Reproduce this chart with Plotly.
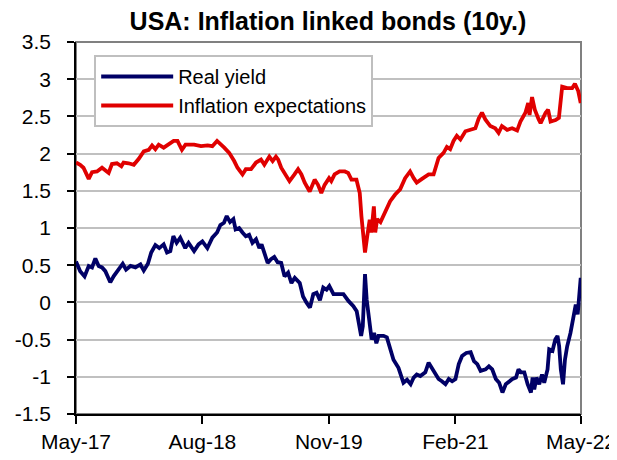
import plotly.graph_objects as go

# ---- data ----
tick_dates = ["2017-05-01", "2018-08-01", "2019-11-01", "2021-02-01", "2022-05-01"]
tick_labels = ["May-17", "Aug-18", "Nov-19", "Feb-21", "May-22"]

y_tickvals = [-1.5, -1, -0.5, 0, 0.5, 1, 1.5, 2, 2.5, 3, 3.5]
y_ticklabels = ["-1.5", "-1", "-0.5", "0", "0.5", "1", "1.5", "2", "2.5", "3", "3.5"]

infl_dates = [
    "2017-05-01", "2017-05-16", "2017-05-28", "2017-06-16", "2017-06-28", "2017-07-16", "2017-08-03", "2017-08-15", "2017-08-27", "2017-09-08",
    "2017-09-26", "2017-10-12", "2017-10-20", "2017-11-07", "2017-11-26", "2017-12-14", "2018-01-01", "2018-01-19", "2018-01-31", "2018-02-12",
    "2018-02-24", "2018-03-14", "2018-04-01", "2018-04-19", "2018-05-03", "2018-05-19", "2018-06-01", "2018-07-02", "2018-07-27", "2018-08-20",
    "2018-09-06", "2018-09-23", "2018-10-19", "2018-11-06", "2018-11-24", "2018-12-06", "2018-12-24", "2019-01-05", "2019-01-24", "2019-02-11",
    "2019-03-01", "2019-03-13", "2019-03-31", "2019-04-12", "2019-04-24", "2019-05-02", "2019-05-13", "2019-05-31", "2019-06-12", "2019-06-30",
    "2019-07-13", "2019-07-25", "2019-08-06", "2019-08-24", "2019-09-11", "2019-09-23", "2019-10-05", "2019-10-17", "2019-11-02", "2019-11-10",
    "2019-11-22", "2019-12-10", "2019-12-29", "2020-01-10", "2020-01-22", "2020-02-09", "2020-02-21", "2020-02-27", "2020-03-07", "2020-03-11",
    "2020-03-19", "2020-03-28", "2020-04-03", "2020-04-12", "2020-04-17", "2020-04-24", "2020-05-06", "2020-05-23", "2020-06-10", "2020-06-28",
    "2020-07-16", "2020-08-03", "2020-08-21", "2020-09-03", "2020-09-14", "2020-10-03", "2020-10-27", "2020-11-14", "2020-12-02", "2020-12-20",
    "2021-01-01", "2021-01-13", "2021-01-25", "2021-02-06", "2021-02-19", "2021-03-09", "2021-03-27", "2021-04-14", "2021-04-26", "2021-05-08",
    "2021-05-20", "2021-06-07", "2021-06-25", "2021-07-07", "2021-07-19", "2021-08-07", "2021-08-25", "2021-09-12", "2021-09-24", "2021-10-12",
    "2021-10-22", "2021-10-27", "2021-11-05", "2021-11-15", "2021-11-29", "2021-12-06", "2021-12-24", "2022-01-02", "2022-01-11", "2022-01-29",
    "2022-02-10", "2022-02-22", "2022-03-12", "2022-03-30", "2022-04-09", "2022-04-21", "2022-04-30",
]
infl_exp = [
    1.88, 1.85, 1.81, 1.66, 1.75, 1.76, 1.81, 1.78, 1.74, 1.86,
    1.87, 1.83, 1.88, 1.87, 1.85, 1.93, 2.03, 2.05, 2.11, 2.06,
    2.12, 2.08, 2.13, 2.17, 2.17, 2.05, 2.12, 2.12, 2.10, 2.11,
    2.10, 2.17, 2.08, 2.01, 1.90, 1.81, 1.72, 1.79, 1.79, 1.88,
    1.92, 1.85, 1.96, 1.90, 1.96, 1.92, 1.81, 1.70, 1.63, 1.72,
    1.79, 1.72, 1.61, 1.49, 1.65, 1.58, 1.47, 1.58, 1.67, 1.63,
    1.72, 1.76, 1.76, 1.74, 1.65, 1.65, 1.47, 1.16, 0.80, 0.67,
    0.89, 1.11, 0.94, 1.29, 0.94, 1.12, 1.08, 1.23, 1.36, 1.45,
    1.52, 1.67, 1.76, 1.67, 1.61, 1.66, 1.72, 1.72, 1.94, 2.01,
    2.09, 2.06, 2.17, 2.24, 2.19, 2.30, 2.32, 2.34, 2.47, 2.55,
    2.46, 2.37, 2.34, 2.28, 2.37, 2.32, 2.34, 2.31, 2.43, 2.55,
    2.68, 2.52, 2.76, 2.59, 2.46, 2.41, 2.55, 2.59, 2.43, 2.45,
    2.48, 2.90, 2.88, 2.88, 2.94, 2.84, 2.68,
]

real_dates = [
    "2017-05-01", "2017-05-16", "2017-06-01", "2017-06-16", "2017-06-28", "2017-07-10", "2017-07-22", "2017-08-03", "2017-08-15", "2017-09-02",
    "2017-09-14", "2017-10-02", "2017-10-17", "2017-10-29", "2017-11-14", "2017-12-02", "2017-12-20", "2018-01-01", "2018-01-16", "2018-01-28",
    "2018-02-12", "2018-02-26", "2018-03-14", "2018-03-26", "2018-04-07", "2018-04-18", "2018-04-30", "2018-05-13", "2018-05-31", "2018-06-12",
    "2018-07-02", "2018-07-18", "2018-08-01", "2018-08-19", "2018-09-06", "2018-09-23", "2018-10-05", "2018-10-18", "2018-10-28", "2018-11-09",
    "2018-11-21", "2018-11-29", "2018-12-12", "2018-12-24", "2019-01-05", "2019-01-17", "2019-01-29", "2019-02-11", "2019-02-23", "2019-03-03",
    "2019-03-13", "2019-03-25", "2019-04-06", "2019-04-18", "2019-04-30", "2019-05-13", "2019-05-25", "2019-06-07", "2019-06-19", "2019-07-01",
    "2019-07-19", "2019-07-31", "2019-08-12", "2019-08-25", "2019-09-06", "2019-09-18", "2019-09-30", "2019-10-12", "2019-10-24", "2019-11-03",
    "2019-11-18", "2019-12-06", "2019-12-24", "2020-01-11", "2020-01-29", "2020-02-10", "2020-02-20", "2020-02-26", "2020-03-03", "2020-03-11",
    "2020-03-17", "2020-03-26", "2020-04-04", "2020-04-13", "2020-04-21", "2020-04-29", "2020-05-17", "2020-05-29", "2020-06-10", "2020-06-22",
    "2020-07-10", "2020-07-22", "2020-07-28", "2020-08-10", "2020-08-23", "2020-09-03", "2020-09-14", "2020-09-27", "2020-10-15", "2020-10-27",
    "2020-11-08", "2020-11-20", "2020-12-02", "2020-12-14", "2020-12-27", "2021-01-08", "2021-01-20", "2021-02-01", "2021-02-13", "2021-02-25",
    "2021-03-12", "2021-03-28", "2021-04-09", "2021-04-21", "2021-05-03", "2021-05-21", "2021-06-02", "2021-06-14", "2021-06-27", "2021-07-09",
    "2021-07-21", "2021-08-02", "2021-08-14", "2021-08-26", "2021-09-08", "2021-09-17", "2021-09-26", "2021-10-08", "2021-10-20", "2021-11-01",
    "2021-11-07", "2021-11-13", "2021-11-21", "2021-12-01", "2021-12-11", "2021-12-19", "2021-12-31", "2022-01-06", "2022-01-18", "2022-01-28",
    "2022-02-05", "2022-02-11", "2022-02-17", "2022-02-25", "2022-03-04", "2022-03-12", "2022-03-24", "2022-04-03", "2022-04-12", "2022-04-19",
    "2022-04-24", "2022-04-30",
]
real_yield = [
    0.55, 0.42, 0.35, 0.49, 0.47, 0.59, 0.49, 0.47, 0.42, 0.27,
    0.35, 0.44, 0.52, 0.44, 0.49, 0.47, 0.51, 0.43, 0.52, 0.67,
    0.77, 0.73, 0.78, 0.67, 0.69, 0.89, 0.80, 0.87, 0.73, 0.80,
    0.69, 0.78, 0.82, 0.73, 0.87, 0.94, 1.04, 1.07, 1.16, 1.08,
    1.12, 0.98, 1.00, 0.94, 0.89, 0.91, 0.80, 0.85, 0.73, 0.78,
    0.67, 0.53, 0.58, 0.61, 0.54, 0.53, 0.35, 0.40, 0.26, 0.33,
    0.26, 0.08, 0.00, -0.07, 0.11, 0.13, 0.03, 0.20, 0.17, 0.22,
    0.11, 0.11, 0.11, 0.02, -0.05, -0.12, -0.32, -0.45, -0.32, 0.38,
    0.04, -0.25, -0.50, -0.41, -0.55, -0.45, -0.45, -0.47, -0.63, -0.77,
    -0.88, -1.03, -1.08, -1.04, -1.10, -1.01, -0.97, -0.99, -0.94, -0.81,
    -0.88, -0.97, -1.03, -1.06, -1.10, -1.03, -1.06, -1.03, -0.83, -0.72,
    -0.68, -0.67, -0.79, -0.83, -0.92, -0.90, -0.86, -0.90, -1.03, -1.08,
    -1.21, -1.10, -1.06, -1.03, -1.01, -0.90, -0.94, -0.94, -1.10, -1.21,
    -1.01, -1.17, -1.01, -1.10, -0.97, -1.08, -0.90, -0.63, -0.65, -0.50,
    -0.45, -0.59, -0.90, -1.10, -0.77, -0.59, -0.41, -0.21, -0.03, -0.16,
    0.13, 0.33,
]

assert len(infl_dates) == len(infl_exp)
assert len(real_dates) == len(real_yield)

FONT = "Liberation Sans, Arial, sans-serif"

fig = go.Figure()
fig.add_trace(go.Scatter(
    x=real_dates, y=real_yield, name="Real yield", mode="lines",
    line=dict(color="#000066", width=3.8),
))
fig.add_trace(go.Scatter(
    x=infl_dates, y=infl_exp, name="Inflation expectations", mode="lines",
    line=dict(color="#E00000", width=3.8),
))

# the page puts the figure 8 px in from the top-left corner of the window
fig.update_layout(
    width=617, height=460,
    margin=dict(l=68, r=44, t=34, b=54, autoexpand=False),
    paper_bgcolor="white", plot_bgcolor="white",
    font=dict(family=FONT, size=21, color="black"),
    title=dict(
        text="<b>USA: Inflation linked bonds (10y.)</b>",
        x=0.5186, xanchor="center", xref="container",
        y=0.991, yanchor="top", yref="container",
        pad=dict(t=0, b=0, l=0, r=0),
        font=dict(family=FONT, size=25, color="black"),
    ),
    showlegend=True,
    legend=dict(
        x=0.036, y=0.965, xanchor="left", yanchor="top",
        bgcolor="white", bordercolor="#BFBFBF", borderwidth=2,
        font=dict(family=FONT, size=20, color="black"),
        itemwidth=72, tracegroupgap=0,
    ),
    shapes=[dict(
        type="rect", xref="paper", yref="paper", x0=0, x1=1, y0=0, y1=1,
        line=dict(color="#808080", width=2), layer="below",
    )],
)
fig.update_xaxes(
    type="date", range=["2017-05-01", "2022-05-01"],
    tickvals=tick_dates, ticktext=tick_labels,
    ticks="outside", ticklen=8, tickwidth=1.5, tickcolor="black",
    showline=True, linecolor="black", linewidth=1.5,
    showgrid=False, zeroline=False, automargin=False,
    tickfont=dict(family=FONT, size=21, color="black"),
)
fig.update_yaxes(
    range=[-1.5, 3.5], tickvals=y_tickvals, ticktext=y_ticklabels,
    ticks="outside", ticklen=7, tickwidth=1.5, tickcolor="black",
    showline=True, linecolor="black", linewidth=1.5,
    showgrid=True, gridcolor="#C0C0C0", gridwidth=1.5, zeroline=False,
    automargin=False,
    tickfont=dict(family=FONT, size=21, color="black"),
    ticklabelstandoff=12,
)

fig.write_html("out.html")
